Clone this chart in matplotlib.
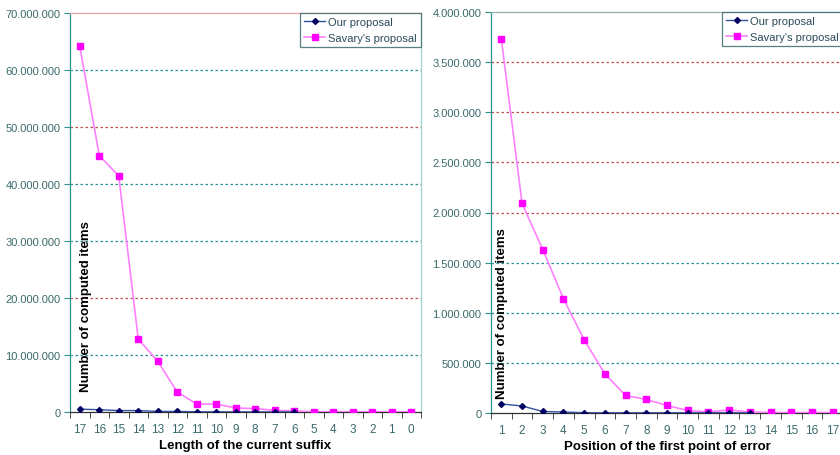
import matplotlib
matplotlib.use("Agg")
import matplotlib.pyplot as plt
from matplotlib.ticker import FuncFormatter
import numpy as np

plt.rcParams['font.family'] = ['Liberation Sans', 'DejaVu Sans']

# left chart: length of the current suffix
suffix_labels = ["17", "16", "15", "14", "13", "12", "11", "10", "9",
                 "8", "7", "6", "5", "4", "3", "2", "1", "0"]
savary_suffix = [64200000, 45000000, 41400000, 12800000, 8900000, 3500000,
                 1400000, 1400000, 700000, 600000, 300000, 200000,
                 50000, 50000, 50000, 50000, 50000, 50000]
ours_suffix = [500000, 400000, 250000, 250000, 100000, 100000,
               30000, 30000, 20000, 20000, 20000, 20000]

# right chart: position of the first point of error
error_labels = [str(i) for i in range(1, 18)]
savary_error = [3730000, 2090000, 1630000, 1140000, 730000, 390000, 175000,
                135000, 75000, 25000, 12000, 30000, 10000, 5000, 5000, 5000, 5000]
ours_error = [90000, 70000, 15000, 10000, 3000, 2000, 2000, 2000, 2000,
              2000, 2000, 2000, 2000]

TEAL = "#2a9090"
RED = "#c05050"
TXT = "#3a6a6a"


def dot_fmt(v, pos):
    return "{:,.0f}".format(v).replace(",", ".")


def draw(ax, labels, savary, ours, ymax, ystep, grid_colors, xlabel,
         ylab_x, ylab_y, top_color):
    n = len(labels)
    x = np.arange(n)
    ax.plot(x[:len(ours)], ours, color="#3050a0", lw=1.0, marker="D",
            ms=3, mfc="#000060", mec="#000060", label="Our proposal", zorder=4)
    ax.plot(x, savary, color="#ff80ff", lw=1.2, marker="s", ms=4,
            mfc="#ff00ff", mec="#ff00ff", label="Savary's proposal", zorder=3)
    ax.set_xlim(-0.5, n - 0.5)
    ax.set_ylim(0, ymax)
    yt = np.arange(0, ymax + 1, ystep)
    ax.set_yticks(yt)
    ax.yaxis.set_major_formatter(FuncFormatter(dot_fmt))
    ax.set_xticks(x)
    ax.set_xticklabels(labels)
    ax.set_xticks(np.arange(-0.5, n, 1.0), minor=True)
    ax.tick_params(axis="x", which="major", length=0, pad=8,
                   labelsize=8.5, labelcolor=TXT)
    ax.tick_params(axis="x", which="minor", length=4, color="#303030")
    ax.tick_params(axis="y", length=4, color=TEAL, labelsize=8,
                   labelcolor=TXT, pad=3)
    for v, c in zip(yt[1:-1], grid_colors):
        ax.axhline(v, color=c, lw=0.9, ls=(0, (2, 2)), zorder=1)
    ax.spines["left"].set_color(TEAL)
    ax.spines["bottom"].set_color("#303030")
    ax.spines["top"].set_color(top_color)
    ax.spines["right"].set_color("#a0d0d0")
    for s in ax.spines.values():
        s.set_linewidth(0.9)
    ax.set_xlabel(xlabel, fontsize=9.5, fontweight="bold", labelpad=3)
    ax.text(ylab_x, ylab_y, "Number of computed items", transform=ax.transAxes,
            rotation=90, fontsize=9.5, fontweight="bold", ha="center",
            va="center")
    leg = ax.legend(loc="upper right", fontsize=8, frameon=True,
                    fancybox=False, borderaxespad=0.0, handlelength=1.9,
                    borderpad=0.35, labelspacing=0.55, handletextpad=0.3)
    leg.get_frame().set_edgecolor("#306060")
    leg.get_frame().set_linewidth(0.9)
    for t in leg.get_texts():
        t.set_color("#2a4a5a")


fig = plt.figure(figsize=(8.4, 4.56), dpi=100)
ax1 = fig.add_axes([70 / 840, 1 - 413 / 456, 351 / 840, 399 / 456])
ax2 = fig.add_axes([491 / 840, 1 - 414 / 456, 352 / 840, 401 / 456])

draw(ax1, suffix_labels, savary_suffix, ours_suffix, 70000000, 10000000,
     [TEAL, RED, TEAL, TEAL, RED, TEAL],
     "Length of the current suffix", 0.046, 0.266, "#e8a0a0")
draw(ax2, error_labels, savary_error, ours_error, 4000000, 500000,
     [TEAL, TEAL, TEAL, RED, RED, RED, RED],
     "Position of the first point of error", 0.031, 0.25, "#90b0b0")

fig.savefig("out.png", dpi=100)
